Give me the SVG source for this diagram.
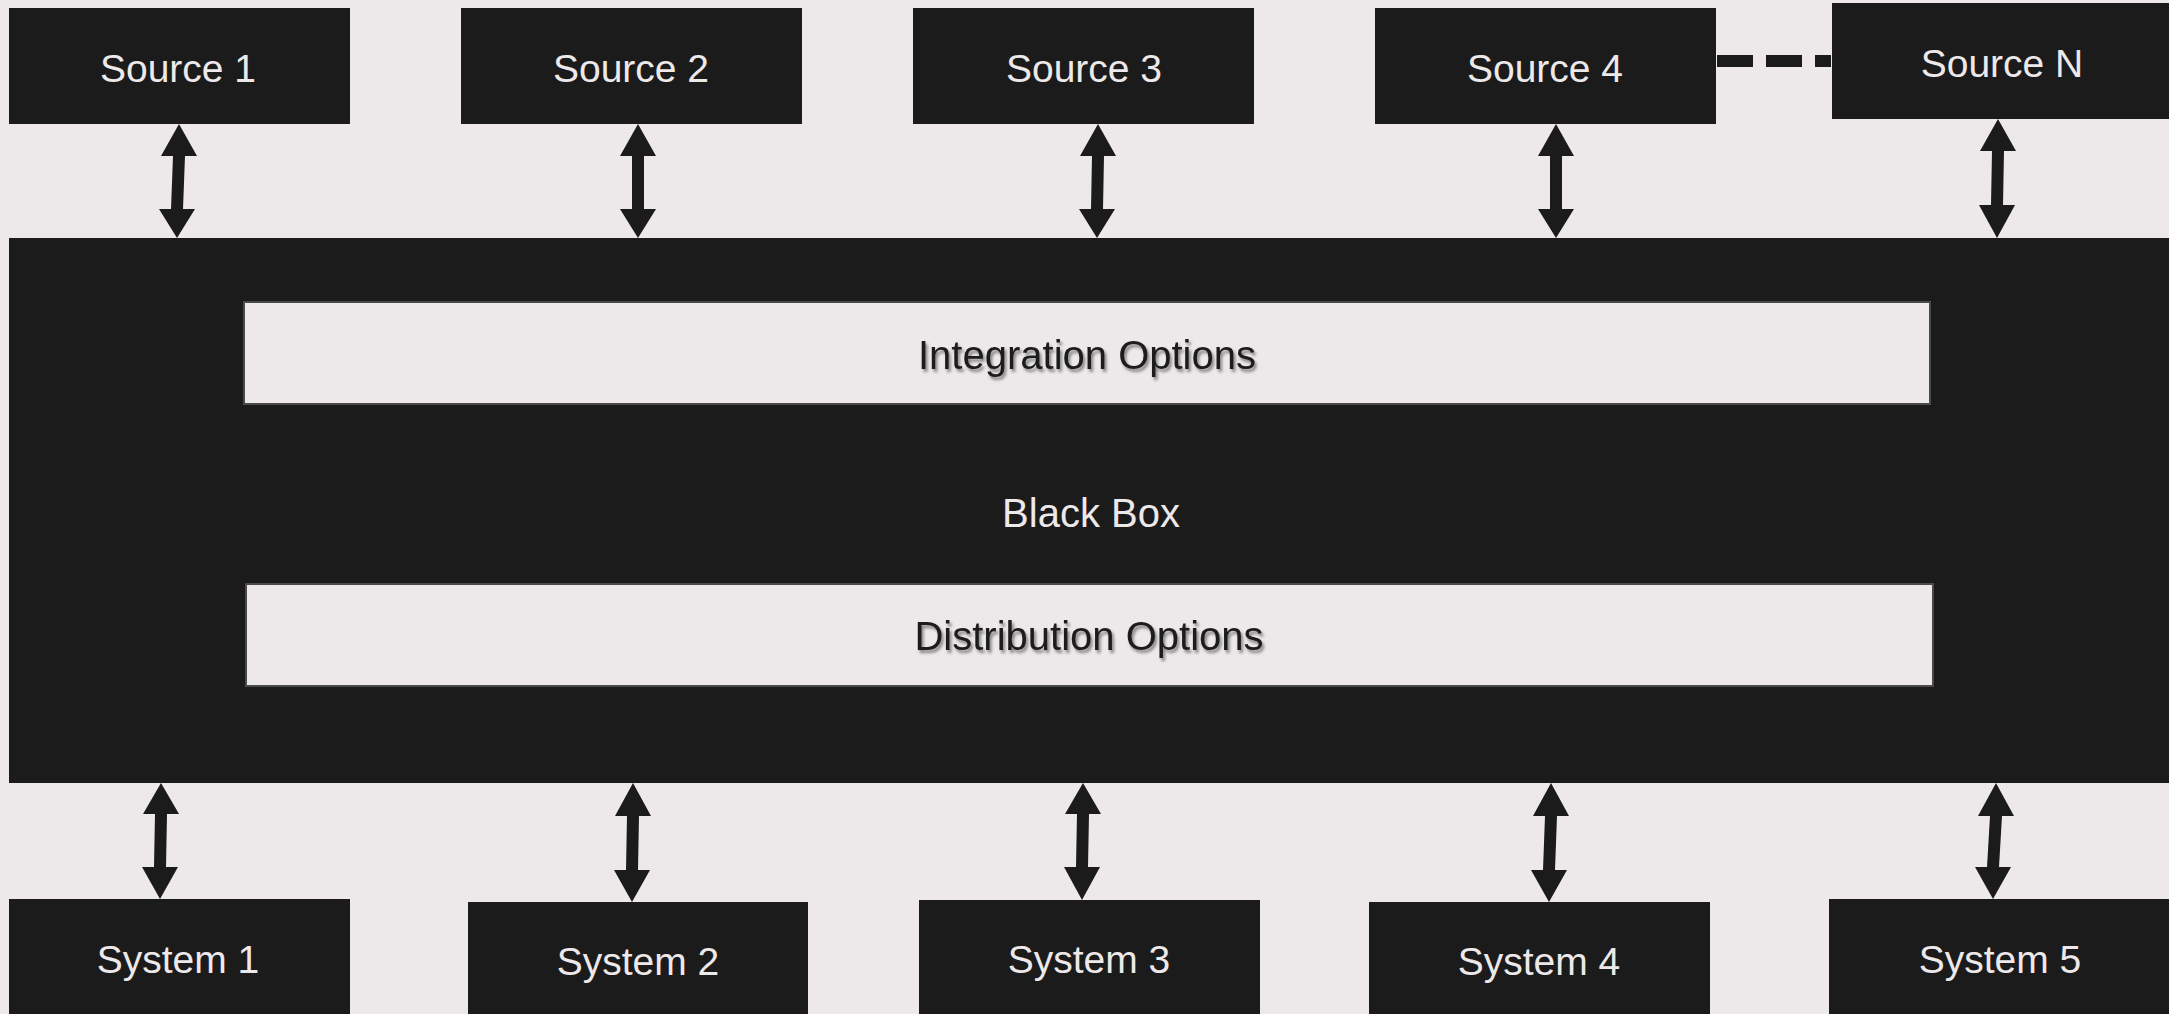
<svg xmlns="http://www.w3.org/2000/svg" width="2169" height="1014" viewBox="0 0 2169 1014">
<defs>
<style>
.bg{fill:#ede9ea}
.dark{fill:#1b1b1b}
.opt{fill:#ede9ea;stroke:#4a4a4a;stroke-width:2}
.lt{fill:#ede9ea;font-family:"Liberation Sans",Arial,sans-serif;font-size:39px;text-anchor:middle}
.mid{fill:#ede9ea;font-family:"Liberation Sans",Arial,sans-serif;font-size:40px;text-anchor:middle}
.dk{fill:#1b1b1b;font-family:"Liberation Sans",Arial,sans-serif;font-size:40px;text-anchor:middle;filter:url(#sh)}
.arr{fill:#1b1b1b}
</style>
<filter id="sh" x="-10%" y="-30%" width="120%" height="160%">
<feDropShadow dx="2" dy="3" stdDeviation="1.5" flood-color="#000" flood-opacity="0.45"/>
</filter>
</defs>
<rect class="bg" x="0" y="0" width="2169" height="1014"/>

<g id="blackbox">
<rect class="dark" x="9" y="238" width="2160" height="545"/>
<text class="mid" x="1091" y="527">Black Box</text>
</g>
<g id="integration">
<rect class="opt" x="244" y="302" width="1686" height="102"/>
<text class="dk" x="1087" y="369">Integration Options</text>
</g>
<g id="distribution">
<rect class="opt" x="246" y="584" width="1687" height="102"/>
<text class="dk" x="1089" y="650">Distribution Options</text>
</g>

<g id="source1"><rect class="dark" x="9" y="8" width="341" height="116"/><text class="lt" x="178" y="82">Source 1</text></g>
<g id="source2"><rect class="dark" x="461" y="8" width="341" height="116"/><text class="lt" x="631" y="82">Source 2</text></g>
<g id="source3"><rect class="dark" x="913" y="8" width="341" height="116"/><text class="lt" x="1084" y="82">Source 3</text></g>
<g id="source4"><rect class="dark" x="1375" y="8" width="341" height="116"/><text class="lt" x="1545" y="82">Source 4</text></g>
<g id="sourceN"><rect class="dark" x="1832" y="3" width="337" height="116"/><text class="lt" x="2002" y="77">Source N</text></g>

<g id="system1"><rect class="dark" x="9" y="899" width="341" height="115"/><text class="lt" x="178" y="973">System 1</text></g>
<g id="system2"><rect class="dark" x="468" y="902" width="340" height="112"/><text class="lt" x="638" y="975">System 2</text></g>
<g id="system3"><rect class="dark" x="919" y="900" width="341" height="114"/><text class="lt" x="1089" y="973">System 3</text></g>
<g id="system4"><rect class="dark" x="1369" y="902" width="341" height="112"/><text class="lt" x="1539" y="975">System 4</text></g>
<g id="system5"><rect class="dark" x="1829" y="899" width="340" height="115"/><text class="lt" x="2000" y="973">System 5</text></g>

<g id="connectors">
<line x1="1717" y1="61" x2="1831" y2="61" stroke="#1b1b1b" stroke-width="12" stroke-dasharray="36 13"/>
<!-- source arrows: top tip, head base, shaft, head base, bottom tip -->
<polygon class="arr" points="179,124 197,156 185,156 183,209 195,209 177,238 159,209 171,209 173,156 161,156"/>
<polygon class="arr" points="638,124 656,156 644,156 644,209 656,209 638,238 620,209 632,209 632,156 620,156"/>
<polygon class="arr" points="1098,124 1116,156 1104,156 1103,209 1115,209 1097,238 1079,209 1091,209 1092,156 1080,156"/>
<polygon class="arr" points="1556,124 1574,156 1562,156 1562,209 1574,209 1556,238 1538,209 1550,209 1550,156 1538,156"/>
<polygon class="arr" points="1998,119 2016,151 2004,151 2003,205 2015,205 1997,238 1979,205 1991,205 1992,151 1980,151"/>
<!-- system arrows -->
<polygon class="arr" points="161,783 179,814 167,814 166,867 178,867 160,899 142,867 154,867 155,814 143,814"/>
<polygon class="arr" points="633,783 651,816 639,816 638,870 650,870 632,902 614,870 626,870 627,816 615,816"/>
<polygon class="arr" points="1083,783 1101,814 1089,814 1088,867 1100,867 1082,900 1064,867 1076,867 1077,814 1065,814"/>
<polygon class="arr" points="1551,783 1569,816 1557,816 1555,870 1567,870 1549,902 1531,870 1543,870 1545,816 1533,816"/>
<polygon class="arr" points="1996,783 2014,816 2002,816 1999,867 2011,867 1993,899 1975,867 1987,867 1990,816 1978,816"/>
</g>
</svg>
